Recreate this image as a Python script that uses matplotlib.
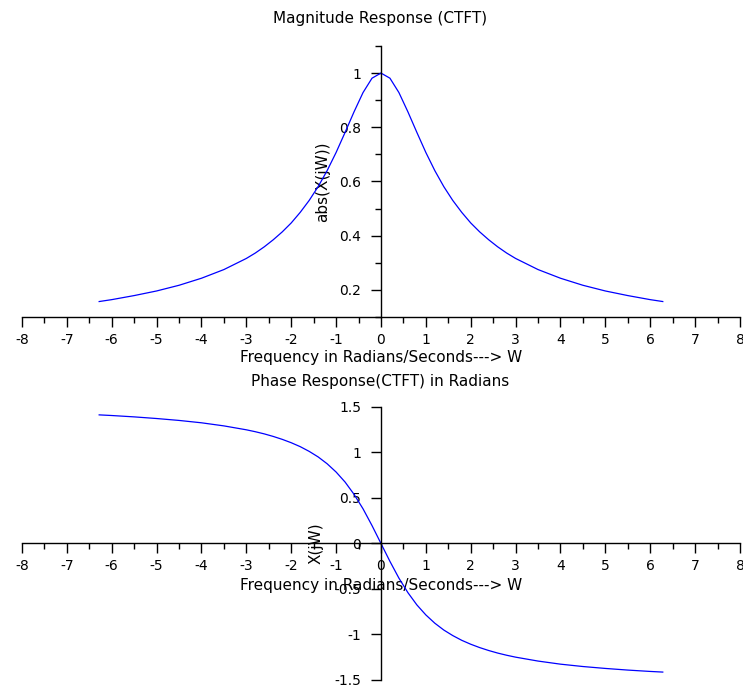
import matplotlib
matplotlib.use("Agg")
import matplotlib.pyplot as plt
from matplotlib.ticker import MultipleLocator, FixedLocator, FuncFormatter

plt.rcParams['font.family'] = 'DejaVu Sans'
plt.rcParams['font.size'] = 10
plt.rcParams['axes.unicode_minus'] = False

# frequency samples (rad/s)
w = [-6.28, -6.0, -5.5, -5.0, -4.5, -4.0, -3.5, -3.0, -2.8, -2.6, -2.4, -2.2,
     -2.0, -1.8, -1.6, -1.4, -1.2, -1.0, -0.8, -0.6, -0.4, -0.2, 0.0,
     0.2, 0.4, 0.6, 0.8, 1.0, 1.2, 1.4, 1.6, 1.8, 2.0, 2.2, 2.4, 2.6, 2.8,
     3.0, 3.5, 4.0, 4.5, 5.0, 5.5, 6.0, 6.28]

magnitude = [0.157, 0.164, 0.179, 0.196, 0.217, 0.243, 0.275, 0.316, 0.336, 0.359,
             0.385, 0.414, 0.447, 0.486, 0.530, 0.581, 0.640, 0.707, 0.781, 0.857,
             0.928, 0.981, 1.000,
             0.981, 0.928, 0.857, 0.781, 0.707, 0.640, 0.581, 0.530, 0.486, 0.447,
             0.414, 0.385, 0.359, 0.336, 0.316, 0.275, 0.243, 0.217, 0.196, 0.179,
             0.164, 0.157]

phase = [1.413, 1.406, 1.391, 1.373, 1.352, 1.326, 1.292, 1.249, 1.228, 1.204,
         1.176, 1.144, 1.107, 1.064, 1.012, 0.951, 0.876, 0.785, 0.675, 0.540,
         0.381, 0.197, 0.000,
         -0.197, -0.381, -0.540, -0.675, -0.785, -0.876, -0.951, -1.012, -1.064,
         -1.107, -1.144, -1.176, -1.204, -1.228, -1.249, -1.292, -1.326, -1.352,
         -1.373, -1.391, -1.406, -1.413]

mag_ticks = [0.2, 0.4, 0.6, 0.8, 1.0]
phase_ticks = [-1.5, -1.0, -0.5, 0.0, 0.5, 1.0, 1.5]

fig = plt.figure(figsize=(7.43, 6.9), dpi=100)


def fmt(v, pos):
    return "%g" % v


def style_axes(ax):
    for s in ("top", "right"):
        ax.spines[s].set_visible(False)
    ax.spines["left"].set_position(("data", 0))
    ax.set_xlim(-8, 8)
    ax.xaxis.set_major_locator(MultipleLocator(1))
    ax.xaxis.set_minor_locator(MultipleLocator(0.5))
    ax.xaxis.set_major_formatter(FuncFormatter(fmt))
    ax.yaxis.set_major_formatter(FuncFormatter(fmt))
    ax.tick_params(axis="x", which="major", direction="out", length=7.2, width=1, pad=4)
    ax.tick_params(axis="x", which="minor", direction="out", length=4.3, width=1)
    ax.tick_params(axis="y", which="major", direction="out", length=7.2, width=1, pad=7)
    ax.tick_params(axis="y", which="minor", direction="out", length=4.3, width=1)
    for s in ("left", "bottom"):
        ax.spines[s].set_linewidth(1)


# magnitude
ax1 = fig.add_axes([0.0296, 0.5406, 0.9663, 0.3928])
ax1.plot(w, magnitude, color="#0000ff", lw=0.9)
style_axes(ax1)
ax1.set_ylim(0.1, 1.1)
ax1.yaxis.set_major_locator(FixedLocator(mag_ticks))
ax1.yaxis.set_minor_locator(MultipleLocator(0.1))
ax1.set_xlabel("Frequency in Radians/Seconds---> W", fontsize=11)
ax1.xaxis.set_label_coords(0.5, -0.122)
ax1.set_ylabel("abs(X(jW))", fontsize=11)
ax1.yaxis.set_label_coords(0.429, 0.5)
fig.text(0.512, 0.9725, "Magnitude Response (CTFT)", ha="center", va="center", fontsize=11)

# phase
ax2 = fig.add_axes([0.0296, 0.0145, 0.9663, 0.3957])
ax2.plot(w, phase, color="#0000ff", lw=0.9)
style_axes(ax2)
ax2.spines["bottom"].set_position(("data", 0))
ax2.set_ylim(-1.5, 1.5)
ax2.yaxis.set_major_locator(FixedLocator(phase_ticks))
ax2.set_xlabel("Frequency in Radians/Seconds---> W", fontsize=11)
ax2.xaxis.set_label_coords(0.5, 0.372)
ax2.set_ylabel("X(jW)", fontsize=11)
ax2.yaxis.set_label_coords(0.4206, 0.5)
fig.text(0.512, 0.4478, "Phase Response(CTFT) in Radians", ha="center", va="center", fontsize=11)

fig.savefig("out.png", dpi=100)
